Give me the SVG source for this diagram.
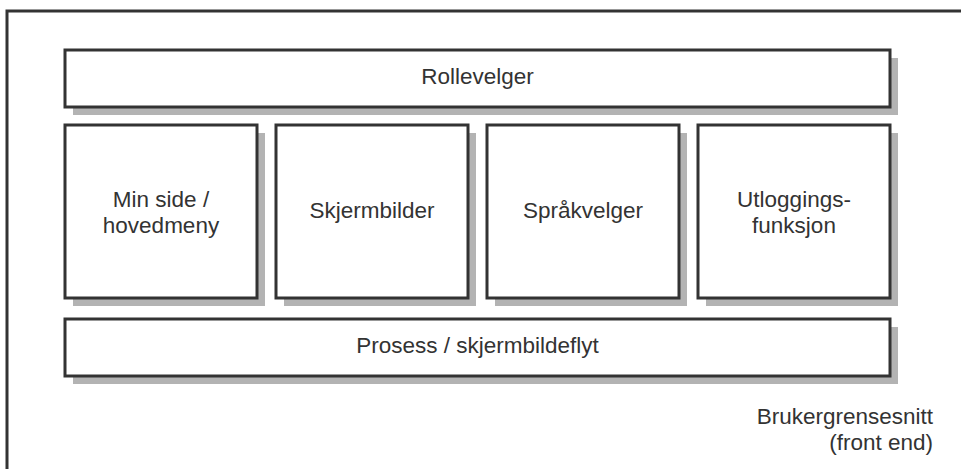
<svg xmlns="http://www.w3.org/2000/svg" width="961" height="469" viewBox="0 0 961 469">
<defs>
<style>
.box{fill:#ffffff;stroke:#333333;stroke-width:3}
.sh{fill:#b3b3b3}
.t{font-family:"Liberation Sans",Arial,sans-serif;font-size:22.5px;fill:#333333;text-anchor:middle}
.lbl{font-family:"Liberation Sans",Arial,sans-serif;font-size:22.5px;fill:#333333;text-anchor:end}
</style>
</defs>
<rect width="961" height="469" fill="#ffffff"/>
<g id="frame">
<rect x="7" y="11" width="1000" height="500" fill="none" stroke="#333333" stroke-width="3"/>
<text class="lbl" x="933" y="424">Brukergrensesnitt</text>
<text class="lbl" x="933" y="450">(front end)</text>
</g>
<g id="rollevelger">
<rect class="sh" x="73" y="58" width="825" height="57"/>
<rect class="box" x="65" y="50" width="825" height="57"/>
<text class="t" x="477.5" y="84">Rollevelger</text>
</g>
<g id="minside">
<rect class="sh" x="73" y="133" width="192" height="173"/>
<rect class="box" x="65" y="125" width="192" height="173"/>
<text class="t" x="161" y="207">Min side /</text>
<text class="t" x="161" y="233">hovedmeny</text>
</g>
<g id="skjermbilder">
<rect class="sh" x="284" y="133" width="192" height="173"/>
<rect class="box" x="276" y="125" width="192" height="173"/>
<text class="t" x="372" y="218">Skjermbilder</text>
</g>
<g id="sprakvelger">
<rect class="sh" x="495" y="133" width="192" height="173"/>
<rect class="box" x="487" y="125" width="192" height="173"/>
<text class="t" x="583" y="218">Språkvelger</text>
</g>
<g id="utlogging">
<rect class="sh" x="706" y="133" width="192" height="173"/>
<rect class="box" x="698" y="125" width="192" height="173"/>
<text class="t" x="794" y="207">Utloggings-</text>
<text class="t" x="794" y="233">funksjon</text>
</g>
<g id="prosess">
<rect class="sh" x="73" y="327" width="825" height="57"/>
<rect class="box" x="65" y="319" width="825" height="57"/>
<text class="t" x="477.5" y="353">Prosess / skjermbildeflyt</text>
</g>
<g id="connectors"></g>
</svg>
